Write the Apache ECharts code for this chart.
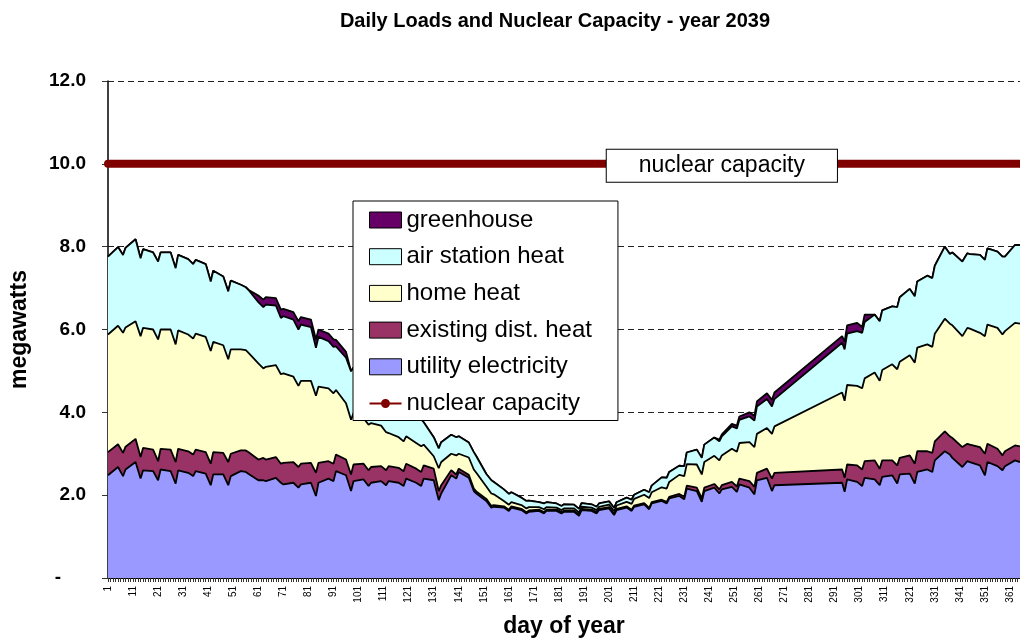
<!DOCTYPE html>
<html>
<head>
<meta charset="utf-8">
<script src="https://cdn.jsdelivr.net/npm/echarts@6/dist/echarts.min.js"></script>
<style>
html,body{margin:0;padding:0;background:#fff;}
#chart{width:1020px;height:643px;}
</style>
</head>
<body>
<div id="chart"></div>
<script>
// ---- data ----
const days = [
  1,5,
  7,8,12, 14,15,19, 21,22,26, 28,29,33, 35,36,40, 42,43,47, 49,50,54, 56,57,61, 63,64,68, 70,71,75, 77,78,82, 84,85,89, 91,92,96,
  98,99,103, 105,106,110, 112,113,117, 119,120,124, 126,127,131, 133,134,138, 140,141,145, 147,148,152, 154,155,159, 161,162,166, 168,169,173, 175,176,180,
  182,183,187, 189,190,194, 196,197,201, 203,204,208, 210,211,215, 217,218,222, 224,225,229, 231,232,236, 238,239,243, 245,246,250, 252,253,257, 259,260,264,
  266,267,294,295,296,300,
  302,303,307, 309,310,314, 316,317,321, 323,324,328, 330,331,335, 337,338,342, 344,345,349, 351,352,356, 358,359,363, 365
];
const utilityElectricity = [
  2.48,2.68,
  2.46,2.62,2.80, 2.40,2.60,2.58, 2.36,2.62,2.58, 2.28,2.60,2.54, 2.46,2.58,2.52, 2.24,2.50,2.50, 2.24,2.46,2.58, 2.56,2.52,2.36, 2.36,2.34,2.42, 2.30,2.26,2.30, 2.18,2.26,2.30, 1.98,2.30,2.40, 2.34,2.58,2.48,
  2.10,2.34,2.38, 2.22,2.30,2.34, 2.24,2.34,2.30, 2.22,2.40,2.30, 2.22,2.40,2.36, 1.88,2.04,2.48, 2.40,2.56,2.42, 2.10,2.04,1.86, 1.70,1.72,1.70, 1.62,1.70,1.64, 1.56,1.60,1.62, 1.56,1.62,1.62,
  1.56,1.60,1.60, 1.50,1.64,1.62, 1.56,1.64,1.68, 1.52,1.64,1.70, 1.62,1.72,1.78, 1.66,1.80,1.86, 1.80,1.92,1.98, 1.90,2.16,2.10, 1.84,2.10,2.18, 2.04,2.14,2.20, 2.08,2.26,2.18, 2.02,2.36,2.42,
  2.10,2.24,2.30,2.08,2.38,2.32,
  2.22,2.42,2.38, 2.24,2.44,2.48, 2.28,2.50,2.52, 2.28,2.56,2.62, 2.56,2.84,3.06, 2.98,2.90,2.68, 2.82,2.80,2.72, 2.48,2.80,2.70, 2.60,2.70,2.84, 2.80
];
const existingDistHeat = [
  0.56,0.55,
  0.56,0.55,0.56, 0.52,0.54,0.52, 0.46,0.50,0.52, 0.52,0.52,0.52, 0.52,0.52,0.52, 0.52,0.54,0.52, 0.56,0.54,0.50, 0.52,0.52,0.50, 0.54,0.52,0.50, 0.46,0.52,0.50, 0.50,0.50,0.48, 0.56,0.48,0.42, 0.42,0.40,0.38,
  0.40,0.40,0.38, 0.38,0.38,0.36, 0.36,0.36,0.36, 0.36,0.36,0.34, 0.34,0.32,0.28, 0.22,0.20,0.12, 0.10,0.08,0.07, 0.06,0.05,0.05, 0.04,0.04,0.03, 0.03,0.03,0.03, 0.03,0.03,0.03, 0.03,0.03,0.03,
  0.03,0.03,0.03, 0.03,0.03,0.03, 0.03,0.03,0.03, 0.03,0.03,0.03, 0.03,0.03,0.03, 0.03,0.03,0.03, 0.04,0.04,0.05, 0.06,0.07,0.08, 0.08,0.08,0.09, 0.10,0.10,0.12, 0.13,0.14,0.16, 0.18,0.18,0.22,
  0.30,0.30,0.32,0.34,0.36,0.40,
  0.40,0.40,0.46, 0.40,0.40,0.36, 0.44,0.40,0.44, 0.48,0.50,0.44, 0.46,0.46,0.48, 0.44,0.48,0.48, 0.42,0.42,0.44, 0.52,0.44,0.42, 0.36,0.36,0.36, 0.38
];
const homeHeat = [
  2.84,2.86,
  2.90,2.88,2.84, 2.92,2.90,2.90, 2.94,2.88,2.90, 2.84,2.86,2.82, 2.80,2.80,2.78, 2.72,2.66,2.60, 2.48,2.52,2.44, 2.42,2.40,2.32, 2.16,2.24,2.22, 2.16,2.16,2.06, 1.96,2.00,1.98, 1.86,1.84,1.76, 1.70,1.56,1.36,
  1.32,1.24,1.10, 1.10,1.06,0.98, 0.92,0.80,0.74, 0.72,0.66,0.62, 0.62,0.50,0.30, 0.55,0.56,0.40, 0.46,0.36,0.42, 0.46,0.45,0.30, 0.30,0.26,0.13, 0.12,0.10,0.09, 0.09,0.08,0.06, 0.07,0.06,0.05,
  0.05,0.05,0.05, 0.05,0.05,0.05, 0.05,0.05,0.06, 0.06,0.08,0.11, 0.14,0.16,0.20, 0.24,0.24,0.30, 0.32,0.36,0.46, 0.50,0.52,0.56, 0.58,0.62,0.68, 0.70,0.72,0.80, 0.84,0.86,0.94, 0.96,0.94,0.98,
  1.08,1.12,1.86,1.86,1.92,1.92,
  1.96,2.00,2.12, 2.12,2.18,2.32, 2.32,2.32,2.42, 2.44,2.50,2.58, 2.56,2.60,2.72, 2.72,2.72,2.68, 2.80,2.80,2.76, 2.84,2.88,2.92, 2.92,2.90,2.96, 2.96
];
const airStationHeat = [
  1.88,1.90,
  1.88,1.92,1.98, 1.88,1.90,1.86, 1.88,1.86,1.86, 1.84,1.82,1.82, 1.80,1.78,1.76, 1.68,1.72,1.66, 1.64,1.66,1.56, 1.52,1.52,1.48, 1.48,1.50,1.44, 1.36,1.38,1.38, 1.36,1.36,1.30, 1.16,1.20,1.14, 1.12,1.05,1.10,
  1.17,1.10,1.05, 1.00,1.00,0.96, 0.95,0.92,0.88, 0.85,0.80,0.70, 0.65,0.54,0.46, 0.48,0.48,0.46, 0.44,0.42,0.36, 0.42,0.40,0.30, 0.32,0.30,0.28, 0.26,0.24,0.18, 0.18,0.16,0.12, 0.14,0.12,0.10,
  0.10,0.10,0.09, 0.09,0.09,0.08, 0.08,0.08,0.08, 0.08,0.08,0.10, 0.10,0.10,0.12, 0.14,0.16,0.24, 0.26,0.24,0.22, 0.24,0.28,0.36, 0.40,0.42,0.44, 0.46,0.46,0.54, 0.56,0.56,0.62, 0.64,0.66,0.70,
  0.66,0.66,1.20,1.24,1.24,1.32,
  1.34,1.36,1.40, 1.44,1.44,1.40, 1.50,1.56,1.60, 1.60,1.60,1.66, 1.66,1.64,1.74, 1.68,1.76,1.80, 1.80,1.80,1.88, 1.84,1.84,1.84, 1.88,1.80,1.88, 1.90
];
const greenhouse = [
  0,0,
  0,0,0, 0,0,0, 0,0,0, 0,0,0, 0,0,0, 0,0,0, 0,0,0, 0,0,0.16, 0.18,0.18,0.18, 0.20,0.18,0.18, 0.20,0.18,0.18, 0.20,0.18,0.18, 0.18,0.16,0.14,
  0,0,0, 0,0,0, 0,0,0, 0,0,0, 0,0,0, 0,0,0, 0,0,0, 0,0,0, 0,0,0, 0,0,0, 0,0,0, 0,0,0,
  0,0,0, 0,0,0, 0,0,0, 0,0,0, 0,0,0, 0,0,0, 0,0,0, 0,0,0, 0,0,0, 0.04,0.05,0.06, 0.07,0.08,0.10, 0.12,0.12,0.14,
  0.16,0.16,0.16,0.18,0.20,0.20,
  0.14,0.18,0, 0,0,0, 0,0,0, 0,0,0, 0,0,0, 0,0,0, 0,0,0, 0,0,0, 0,0,0, 0
];
const nuclearCapacity = 10;
const nuclearLabelDay = 246;
const dayCategories = Array.from({ length: 365 }, (_, i) => String(i + 1));
const yTicks = [0, 2, 4, 6, 8, 10, 12];

// ---- chart ----
const FONT = '"Liberation Sans", Arial, Helvetica, sans-serif';
const toPairs = arr => days.map((d, i) => [d - 1, arr[i]]);
// legend glyph: thin line with a dot (bbox fixed to 32x16 by two hair-size corner squares)
const NUCLEAR_ICON = 'path://M0,0h0.01v0.01h-0.01Z M32,16h-0.01v-0.01h0.01Z M0,7h11.6v2h-11.6Z M20.4,7h11.6v2h-11.6Z M20.5,8A4.5,4.5,0,1,1,11.5,8A4.5,4.5,0,1,1,20.5,8Z';

function areaSeries(name, arr, color, z) {
  return {
    name: name, type: 'line', stack: 'load', data: toPairs(arr),
    showSymbol: false, symbol: 'none', z: z,
    itemStyle: { color: color },
    lineStyle: { color: '#000', width: 1.8 },
    areaStyle: { color: color, opacity: 1 },
    emphasis: { disabled: true }, silent: true
  };
}

const nuclearData = days.map(d => {
  const item = { value: [d - 1, nuclearCapacity] };
  if (d === nuclearLabelDay) {
    item.label = {
      show: true, position: 'inside', formatter: 'nuclear capacity', offset: [0, 2],
      backgroundColor: '#fff', borderColor: '#000', borderWidth: 1,
      padding: [5, 32, 4, 32], fontSize: 23, color: '#000', fontFamily: FONT
    };
  }
  return item;
});

const chart = echarts.init(document.getElementById('chart'), null, { renderer: 'canvas' });
chart.setOption({
  animation: false,
  backgroundColor: '#fff',
  title: {
    text: 'Daily Loads and Nuclear Capacity - year 2039',
    left: 555, top: 11, textAlign: 'center', padding: 0,
    textStyle: { fontSize: 20, fontWeight: 'bold', color: '#000', fontFamily: FONT }
  },
  grid: { left: 108, right: -8, top: 81, bottom: 62, containLabel: false },
  legend: {
    orient: 'vertical', left: 353, top: 201, z: 20,
    backgroundColor: '#fff', borderColor: '#000', borderWidth: 1,
    padding: [7, 26, 5, 16], itemWidth: 32, itemHeight: 16, itemGap: 12.7,
    textStyle: { fontSize: 24, color: '#000', fontFamily: FONT },
    itemStyle: { borderColor: '#000', borderWidth: 1 },
    data: [
      { name: 'greenhouse', icon: 'rect' },
      { name: 'air station heat', icon: 'rect' },
      { name: 'home heat', icon: 'rect' },
      { name: 'existing dist. heat', icon: 'rect' },
      { name: 'utility electricity', icon: 'rect' },
      { name: 'nuclear capacity', icon: NUCLEAR_ICON, itemStyle: { color: '#800000', borderWidth: 0 } }
    ]
  },
  xAxis: {
    type: 'category', data: dayCategories, boundaryGap: false,
    name: 'day of year', nameLocation: 'middle', nameGap: 37,
    nameTextStyle: { fontSize: 23, fontWeight: 'bold', color: '#000', fontFamily: FONT },
    axisLine: { show: true, onZero: false, lineStyle: { color: '#000', width: 1 } },
    axisTick: { show: true, interval: 0, length: 4, lineStyle: { color: '#333' } },
    splitLine: { show: false },
    axisLabel: { interval: 9, rotate: 90, margin: 8, fontSize: 10, color: '#000', fontFamily: FONT }
  },
  yAxis: {
    type: 'value', min: yTicks[0], max: yTicks[yTicks.length - 1], interval: 2,
    name: 'megawatts', nameLocation: 'middle', nameRotate: 90, nameGap: 77,
    nameTextStyle: { fontSize: 23, fontWeight: 'bold', color: '#000', fontFamily: FONT },
    axisLine: { show: true, lineStyle: { color: '#000', width: 1.5 } },
    axisTick: { show: true, length: 6, lineStyle: { color: '#333' } },
    splitLine: { show: true, lineStyle: { color: '#222', width: 1, type: [6, 4] } },
    axisLabel: {
      margin: 22, fontSize: 19, fontWeight: 'bold', color: '#000', fontFamily: FONT,
      formatter: v => v === 0 ? '{d|-}' : v.toFixed(1),
      rich: { d: { fontSize: 19, fontWeight: 'bold', color: '#000', fontFamily: FONT, padding: [0, 25, 0, 0] } }
    }
  },
  series: [
    areaSeries('utility electricity', utilityElectricity, '#9999FF', 7),
    areaSeries('existing dist. heat', existingDistHeat, '#993366', 6),
    areaSeries('home heat', homeHeat, '#FFFFCC', 5),
    areaSeries('air station heat', airStationHeat, '#CCFFFF', 4),
    areaSeries('greenhouse', greenhouse, '#660066', 3),
    {
      name: 'nuclear capacity', type: 'line', data: nuclearData, z: 8,
      showSymbol: true, showAllSymbol: true, symbol: 'circle', symbolSize: 6,
      itemStyle: { color: '#800000' },
      lineStyle: { color: '#800000', width: 8, cap: 'round' },
      emphasis: { disabled: true }, silent: true
    }
  ]
});
</script>
</body>
</html>
